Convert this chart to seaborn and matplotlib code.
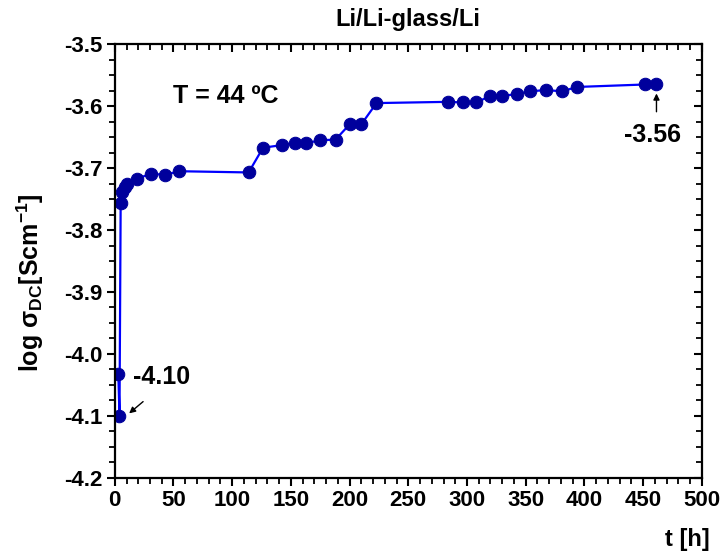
import numpy as np
import seaborn as sns
import matplotlib
matplotlib.use('Agg')
import matplotlib.pyplot as plt
from matplotlib.ticker import MultipleLocator

# Data (time in hours, log conductivity)
t_hours = [3, 4, 5, 6.5, 8.5, 10, 19, 31, 42.6, 54.8, 114, 126.3, 142, 153.3,
           162.7, 174.6, 188, 200.2, 210.1, 222.9, 283.9, 296.2, 307.5, 319.7,
           329.4, 342.8, 353.9, 366.9, 381.3, 393.3, 451.4, 460.8]
log_sigma = [-4.033, -4.100, -3.756, -3.738, -3.730, -3.726, -3.717, -3.709,
             -3.711, -3.705, -3.707, -3.667, -3.663, -3.659, -3.660, -3.655,
             -3.654, -3.629, -3.629, -3.595, -3.593, -3.594, -3.594, -3.584,
             -3.584, -3.580, -3.576, -3.574, -3.576, -3.569, -3.565, -3.565]

sns.set_style('ticks')
plt.rcParams['font.family'] = ['Liberation Sans', 'DejaVu Sans']
plt.rcParams['font.weight'] = 'bold'
plt.rcParams['text.color'] = 'black'
plt.rcParams['axes.labelcolor'] = 'black'
plt.rcParams['axes.unicode_minus'] = False
plt.rcParams['mathtext.fontset'] = 'custom'
plt.rcParams['mathtext.rm'] = 'Liberation Sans:bold'
plt.rcParams['mathtext.bf'] = 'Liberation Sans:bold'
plt.rcParams['mathtext.it'] = 'Liberation Sans:bold'
plt.rcParams['mathtext.default'] = 'bf'

fig = plt.figure(figsize=(7.22, 5.53), dpi=100)
ax = fig.add_axes([0.159, 0.136, 0.813, 0.784])

sns.lineplot(x=t_hours, y=log_sigma, ax=ax, estimator=None, sort=False,
             color='#0000FF', linewidth=1.6, marker='o', markersize=9,
             markerfacecolor='#00009C', markeredgecolor='#00009C')

ax.set_xlim(0, 500)
ax.set_ylim(-4.2, -3.5)
ax.xaxis.set_major_locator(MultipleLocator(50))
ax.xaxis.set_minor_locator(MultipleLocator(10))
ax.yaxis.set_major_locator(MultipleLocator(0.1))
ax.yaxis.set_minor_locator(MultipleLocator(0.025))
ax.set_yticklabels([f'{v:.1f}' for v in ax.get_yticks()])

for s in ax.spines.values():
    s.set_linewidth(1.6)
    s.set_color('black')
    s.set_visible(True)
ax.tick_params(which='major', direction='out', length=6, width=1.5,
               labelsize=16, colors='black', labelcolor='black', pad=3)
ax.tick_params(which='minor', direction='out', length=4, width=1.3, colors='black')
ax.tick_params(which='both', top=True, right=True)
# mirrored ticks point inwards on top and right
for tk in ax.xaxis.get_major_ticks() + ax.xaxis.get_minor_ticks():
    tk.tick2line.set_marker(3)
for tk in ax.yaxis.get_major_ticks() + ax.yaxis.get_minor_ticks():
    tk.tick2line.set_marker(0)

ax.set_title('Li/Li-glass/Li', fontsize=17, fontweight='bold', pad=13, color='black')
ax.set_xlabel('t [h]', fontsize=17, fontweight='bold', loc='right')
ax.xaxis.set_label_coords(1.013, -0.115)
ax.set_ylabel(r'log $\sigma_{DC}$[Scm$^{-1}$]', fontsize=18, fontweight='bold')
ax.yaxis.set_label_coords(-0.118, 0.45)

ax.text(0.1, 0.88, 'T = 44 ºC', transform=ax.transAxes, fontsize=18,
        fontweight='bold', va='center', ha='left')

arrow = dict(arrowstyle='-|>', color='black', lw=1, mutation_scale=9,
             shrinkA=0, shrinkB=0)
ax.text(458.3, -3.646, '-3.56', fontsize=18, fontweight='bold',
        ha='center', va='center')
ax.annotate('', xy=(461.4, -3.5795), xytext=(461.4, -3.609), arrowprops=arrow)
ax.text(40, -4.037, '-4.10', fontsize=18, fontweight='bold',
        ha='center', va='center')
ax.annotate('', xy=(12.2, -4.096), xytext=(24.1, -4.077), arrowprops=arrow)

fig.savefig('out.png', dpi=100)
